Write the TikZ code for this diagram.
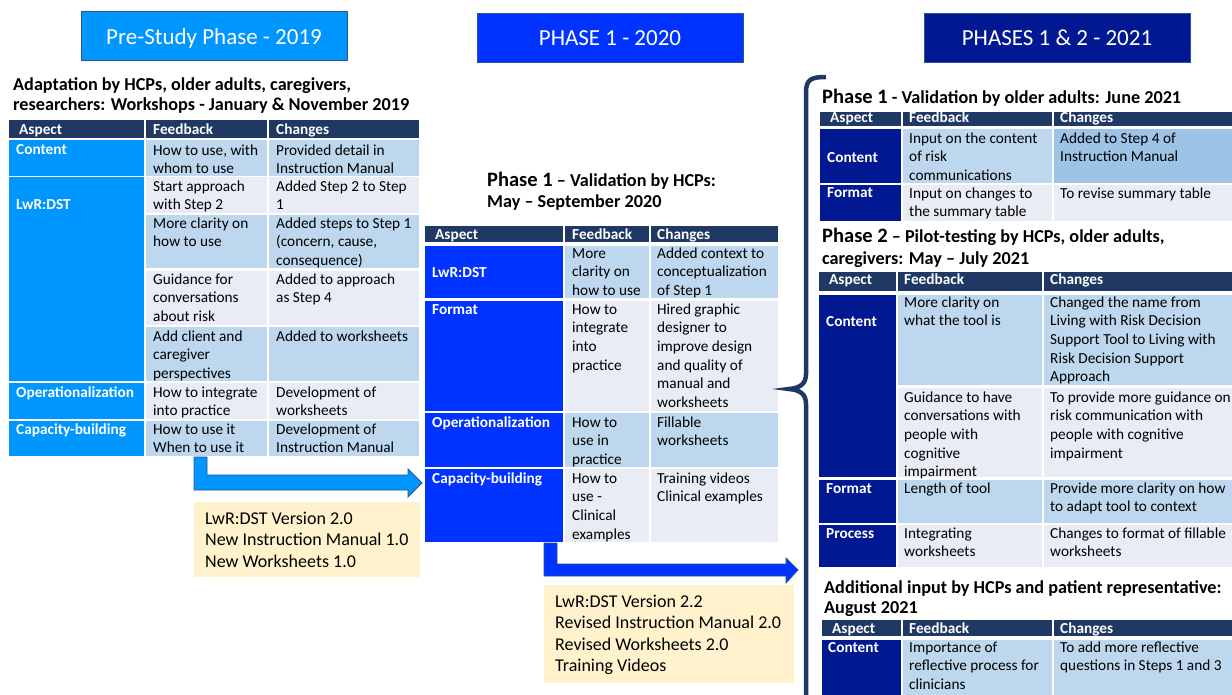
\documentclass[tikz,border=0pt]{standalone}
\usepackage{fontspec}
\setmainfont{Carlito}
\definecolor{hdrnavy}{HTML}{1F3864}
\definecolor{ltblue}{HTML}{BDD7EE}
\definecolor{midblue}{HTML}{9DC3E6}
\definecolor{lav}{HTML}{E9EBF5}
\definecolor{aspA}{HTML}{0096FF}
\definecolor{aspB}{HTML}{0033FF}
\definecolor{aspC}{HTML}{001892}
\definecolor{cream}{HTML}{FFF2CC}
\definecolor{boxedge}{HTML}{2F528F}
\definecolor{bracec}{HTML}{203864}
\newcommand\tabfont{\fontsize{15.3}{18.6}\selectfont}
\newcommand\ttlfont{\fontsize{18.2}{21}\selectfont\bfseries}
\newcommand\bigfont{\fontsize{20.5}{23}\selectfont\bfseries}
\newcommand\notefont{\fontsize{18}{21.5}\selectfont}
\tikzset{
  cellbox/.style={anchor=north west, inner sep=0pt, outer sep=0pt, draw=none},
  txt/.style={anchor=north west, inner sep=0pt, align=left, font=\tabfont, text=black},
  asp/.style={anchor=base west, inner sep=0pt, font=\tabfont\bfseries, text=white},
  ttl/.style={anchor=base west, inner sep=0pt, font=\ttlfont, text=black},
  notetxt/.style={anchor=north west, inner sep=0pt, align=left, font=\notefont, text=black},
  phasebox/.style={anchor=north west, draw=boxedge, line width=0.8pt,
    inner sep=0pt, minimum width=266pt, minimum height=49pt},
  phasetxt/.style={anchor=base, inner sep=0pt, text=white, font=\fontsize{23}{27}\selectfont},
  blockarrow/.style={draw=boxedge, line width=0.8pt},
}
\newcommand\Cell[6]{\node[cellbox, fill=#6, minimum width={#4pt-#2pt}, minimum height={#5pt-#3pt}] (#1) at (#2,#3) {};}
\newcommand\Txt[4]{\node[txt] (#1) at (#2,#3-13.02) {\strut #4};}
\newcommand\Asp[4]{\node[asp] (#1) at (#2,#3) {#4};}
\begin{document}
\begin{tikzpicture}[x=1pt,y=-1pt]
\useasboundingbox (0,0) rectangle (1232,695);
\clip (0,0) rectangle (1232,695);
\fill[white] (0,0) rectangle (1232,695);

% ---------- phase boxes ----------
\node[phasebox, fill=aspA] (ph0) at (81,11) {};
\node[phasebox, fill=aspB] (ph1) at (477,13) {};
\node[phasebox, fill=aspC] (ph2) at (924,13) {};
\node[phasetxt] (ph0t) at (214,45) {Pre-Study Phase - 2019};
\node[phasetxt] (ph1t) at (610,46) {PHASE 1 - 2020};
\node[phasetxt] (ph2t) at (1057,46) {PHASES 1 \& 2 - 2021};

% ---------- left table ----------
\node[ttl] (lt1) at (13,91) {Adaptation by HCPs, older adults, caregivers,};
\node[ttl] (lt2) at (13,111) {researchers: Workshops - January \& November 2019};

\Cell{Lha}{9}{120}{144}{138}{hdrnavy}
\Cell{Lhf}{146}{120}{267}{138}{hdrnavy}
\Cell{Lhc}{269}{120}{419}{138}{hdrnavy}
\Asp{Lhat}{19}{135}{Aspect}
\Asp{Lhft}{153}{135}{Feedback}
\Asp{Lhct}{276}{135}{Changes}

\Cell{La1}{9}{140}{144}{176}{aspA}
\Cell{La2}{9}{177}{144}{381}{aspA}
\Cell{La3}{9}{383}{144}{419}{aspA}
\Cell{La4}{9}{421}{144}{456}{aspA}
\Asp{La1t}{16}{155}{Content}
\Asp{La2t}{16}{210}{LwR:DST}
\Asp{La3t}{16}{397}{Operationalization}
\Asp{La4t}{16}{434}{Capacity-building}

\Cell{Lf1}{146}{140}{267}{176}{ltblue}\Cell{Lc1}{269}{140}{419}{176}{ltblue}
\Cell{Lf2}{146}{177}{267}{213}{lav}\Cell{Lc2}{269}{177}{419}{213}{lav}
\Cell{Lf3}{146}{215}{267}{268}{ltblue}\Cell{Lc3}{269}{215}{419}{268}{ltblue}
\Cell{Lf4}{146}{271}{267}{325}{lav}\Cell{Lc4}{269}{271}{419}{325}{lav}
\Cell{Lf5}{146}{327}{267}{381}{ltblue}\Cell{Lc5}{269}{327}{419}{381}{ltblue}
\Cell{Lf6}{146}{383}{267}{419}{lav}\Cell{Lc6}{269}{383}{419}{419}{lav}
\Cell{Lf7}{146}{421}{267}{456}{ltblue}\Cell{Lc7}{269}{421}{419}{456}{ltblue}

\Txt{Lf1t}{153}{155}{How to use, with\\whom to use}
\Txt{Lc1t}{276}{155}{Provided detail in\\Instruction Manual}
\Txt{Lf2t}{153}{191}{Start approach\\with Step 2}
\Txt{Lc2t}{276}{191}{Added Step 2 to Step\\1}
\Txt{Lf3t}{153}{228}{More clarity on\\how to use}
\Txt{Lc3t}{276}{228}{Added steps to Step 1\\(concern, cause,\\consequence)}
\Txt{Lf4t}{153}{284}{Guidance for\\conversations\\about risk}
\Txt{Lc4t}{276}{284}{Added to approach\\as Step 4}
\Txt{Lf5t}{153}{341}{Add client and\\caregiver\\perspectives}
\Txt{Lc5t}{276}{341}{Added to worksheets}
\Txt{Lf6t}{153}{397}{How to integrate\\into practice}
\Txt{Lc6t}{276}{397}{Development of\\worksheets}
\Txt{Lf7t}{153}{434}{How to use it\\When to use it}
\Txt{Lc7t}{276}{434}{Development of\\Instruction Manual}

% arrow 1
\draw[blockarrow, fill=aspA] (194,457) -- (207,457) -- (207,475) -- (408,475) -- (408,469)
  -- (422,483) -- (408,497) -- (408,490) -- (194,490) -- cycle;

\node[cellbox, fill=cream, minimum width=226pt, minimum height=75pt] (out1) at (194,502) {};
\node[notetxt] (out1t) at (205,524-15.05) {\strut LwR:DST Version 2.0\\New Instruction Manual 1.0\\New Worksheets 1.0};

% ---------- middle table ----------
\node[ttl] (mt1) at (487,187) {{\bigfont Phase 1} – Validation by HCPs:};
\node[ttl] (mt2) at (487,208) {May – September 2020};

\Cell{Mha}{425}{226}{563}{242}{hdrnavy}
\Cell{Mhf}{565}{226}{649}{242}{hdrnavy}
\Cell{Mhc}{651}{226}{778}{242}{hdrnavy}
\Asp{Mhat}{435}{240}{Aspect}
\Asp{Mhft}{572}{240}{Feedback}
\Asp{Mhct}{657}{240}{Changes}

\Cell{Ma1}{425}{246}{563}{298}{aspB}
\Cell{Ma2}{425}{301}{563}{411}{aspB}
\Cell{Ma3}{425}{413}{563}{467}{aspB}
\Cell{Ma4}{425}{469}{563}{542}{aspB}
\Asp{Ma1t}{432}{278}{LwR:DST}
\Asp{Ma2t}{432}{314}{Format}
\Asp{Ma3t}{432}{427}{Operationalization}
\Asp{Ma4t}{432}{483}{Capacity-building}

\Cell{Mf1}{565}{246}{649}{298}{ltblue}\Cell{Mc1}{651}{246}{778}{298}{ltblue}
\Cell{Mf2}{565}{301}{649}{411}{lav}\Cell{Mc2}{651}{301}{778}{411}{lav}
\Cell{Mf3}{565}{413}{649}{467}{ltblue}\Cell{Mc3}{651}{413}{778}{467}{ltblue}
\Cell{Mf4}{565}{469}{649}{542}{lav}\Cell{Mc4}{651}{469}{778}{542}{lav}

\Txt{Mf1t}{572}{258}{More\\clarity on\\how to use}
\Txt{Mc1t}{657}{258}{Added context to\\conceptualization\\of Step 1}
\Txt{Mf2t}{572}{314}{How to\\integrate\\into\\practice}
\Txt{Mc2t}{657}{314}{Hired graphic\\designer to\\improve design\\and quality of\\manual and\\worksheets}
\Txt{Mf3t}{572}{427}{How to\\use in\\practice}
\Txt{Mc3t}{657}{427}{Fillable\\worksheets}
\Txt{Mf4t}{572}{483}{How to\\use -\\Clinical\\examples}
\Txt{Mc4t}{657}{483}{Training videos\\Clinical examples}

% arrow 2
\draw[blockarrow, fill=aspB] (544,543) -- (557,543) -- (557,564) -- (786,564) -- (786,558)
  -- (798,570) -- (786,583) -- (786,576) -- (544,576) -- cycle;

\node[cellbox, fill=cream, minimum width=250pt, minimum height=98pt] (out2) at (544,585) {};
\node[notetxt] (out2t) at (555,607-15.05) {\strut LwR:DST Version 2.2\\Revised Instruction Manual 2.0\\Revised Worksheets 2.0\\Training Videos};

% ---------- brace ----------
\draw[bracec, line width=4.5pt, line cap=butt]
  (826,77) .. controls (812,77) and (806,79) .. (806,92) -- (806,374)
  .. controls (806,384) and (800,388) .. (789,389)
  .. controls (800,390) and (806,394) .. (806,404) -- (806,700);

% ---------- right table 1 ----------
\node[ttl] (rt1) at (822,104) {{\bigfont Phase 1} - Validation by older adults: June 2021};

\Cell{Aha}{820}{112}{901}{126}{hdrnavy}
\Cell{Ahf}{903}{112}{1052}{126}{hdrnavy}
\Cell{Ahc}{1054}{112}{1240}{126}{hdrnavy}
\Asp{Ahat}{830}{123}{Aspect}
\Asp{Ahft}{909}{123}{Feedback}
\Asp{Ahct}{1060}{123}{Changes}

\Cell{Aa1}{820}{129}{901}{183}{aspC}
\Cell{Aa2}{820}{185}{901}{221}{aspC}
\Asp{Aa1t}{827}{163}{Content}
\Asp{Aa2t}{827}{198}{Format}

\Cell{Af1}{903}{129}{1052}{183}{ltblue}\Cell{Ac1}{1054}{129}{1240}{183}{midblue}
\Cell{Af2}{903}{185}{1052}{221}{lav}\Cell{Ac2}{1054}{185}{1240}{221}{lav}

\Txt{Af1t}{909}{143}{Input on the content\\of risk\\communications}
\Txt{Ac1t}{1060}{143}{Added to Step 4 of\\Instruction Manual}
\Txt{Af2t}{909}{198}{Input on changes to\\the summary table}
\Txt{Ac2t}{1060}{198}{To revise summary table}

% ---------- right table 2 ----------
\node[ttl] (rt2a) at (822,243) {{\bigfont Phase 2} – Pilot-testing by HCPs, older adults,};
\node[ttl] (rt2b) at (822,265) {caregivers: May – July 2021};

\Cell{Bha}{819}{272}{896}{291}{hdrnavy}
\Cell{Bhf}{898}{272}{1042}{291}{hdrnavy}
\Cell{Bhc}{1044}{272}{1240}{291}{hdrnavy}
\Asp{Bhat}{829}{284}{Aspect}
\Asp{Bhft}{904}{284}{Feedback}
\Asp{Bhct}{1050}{284}{Changes}

\Cell{Ba1}{819}{295}{896}{477}{aspC}
\Cell{Ba2}{819}{480}{896}{523}{aspC}
\Cell{Ba3}{819}{525}{896}{567}{aspC}
\Asp{Ba1t}{826}{326}{Content}
\Asp{Ba2t}{826}{493}{Format}
\Asp{Ba3t}{826}{538}{Process}

\Cell{Bf1}{898}{295}{1042}{385}{ltblue}\Cell{Bc1}{1044}{295}{1240}{385}{ltblue}
\Cell{Bf2}{898}{388}{1042}{477}{lav}\Cell{Bc2}{1044}{388}{1240}{477}{lav}
\Cell{Bf3}{898}{480}{1042}{523}{ltblue}\Cell{Bc3}{1044}{480}{1240}{523}{ltblue}
\Cell{Bf4}{898}{525}{1042}{567}{lav}\Cell{Bc4}{1044}{525}{1240}{567}{lav}

\Txt{Bf1t}{904}{307}{More clarity on\\what the tool is}
\Txt{Bc1t}{1050}{307}{Changed the name from\\Living with Risk Decision\\Support Tool to Living with\\Risk Decision Support\\Approach}
\Txt{Bf2t}{904}{402}{Guidance to have\\conversations with\\people with\\cognitive\\impairment}
\Txt{Bc2t}{1050}{402}{To provide more guidance on\\risk communication with\\people with cognitive\\impairment}
\Txt{Bf3t}{904}{493}{Length of tool}
\Txt{Bc3t}{1050}{493}{Provide more clarity on how\\to adapt tool to context}
\Txt{Bf4t}{904}{538}{Integrating\\worksheets}
\Txt{Bc4t}{1050}{538}{Changes to format of fillable\\worksheets}

% ---------- right table 3 ----------
\node[ttl] (rt3a) at (824,593) {Additional input by HCPs and patient representative:};
\node[ttl] (rt3b) at (824,613) {August 2021};

\Cell{Cha}{822}{620}{901}{636}{hdrnavy}
\Cell{Chf}{903}{620}{1052}{636}{hdrnavy}
\Cell{Chc}{1054}{620}{1240}{636}{hdrnavy}
\Asp{Chat}{832}{633}{Aspect}
\Asp{Chft}{909}{633}{Feedback}
\Asp{Chct}{1060}{633}{Changes}

\Cell{Ca1}{822}{640}{901}{700}{aspC}
\Asp{Ca1t}{828}{652}{Content}
\Cell{Cf1}{903}{640}{1052}{700}{ltblue}\Cell{Cc1}{1054}{640}{1240}{700}{ltblue}
\Txt{Cf1t}{909}{652}{Importance of\\reflective process for\\clinicians}
\Txt{Cc1t}{1060}{652}{To add more reflective\\questions in Steps 1 and 3}
\end{tikzpicture}
\end{document}
